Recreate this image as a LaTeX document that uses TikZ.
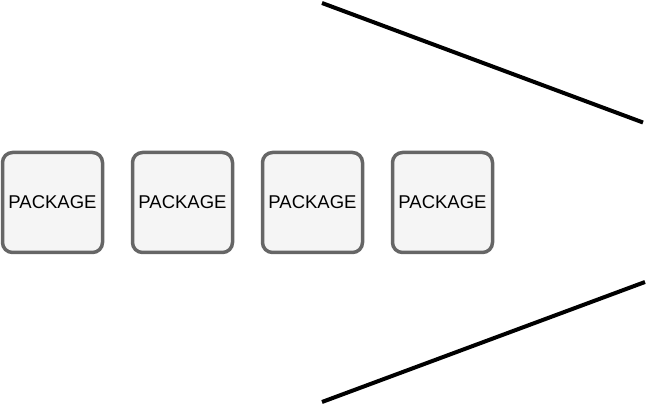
\documentclass[tikz,border=0pt]{standalone}
\usepackage{fontspec}
\setmainfont{Liberation Sans}
\begin{document}
\begin{tikzpicture}[x=1pt,y=-1pt,
  pkg/.style={draw=black!60, fill=black!4, line width=3.5pt, rounded corners=10pt,
    minimum width=100pt, minimum height=100pt, inner sep=0pt, font=\fontsize{18.5}{21}\selectfont},
  bar/.style={line width=4pt, black}]
\useasboundingbox (0,0) rectangle (649,406);
\node[pkg] (p1) at (52.5,202.5) {PACKAGE};
\node[pkg] (p2) at (182.5,202.5) {PACKAGE};
\node[pkg] (p3) at (312.5,202.5) {PACKAGE};
\node[pkg] (p4) at (442.5,202.5) {PACKAGE};
\coordinate (a1) at (322,3);
\coordinate (a2) at (643,122.5);
\coordinate (b1) at (322,402);
\coordinate (b2) at (645,282);
\draw[bar] (a1) -- (a2);
\draw[bar] (b1) -- (b2);
\end{tikzpicture}
\end{document}
